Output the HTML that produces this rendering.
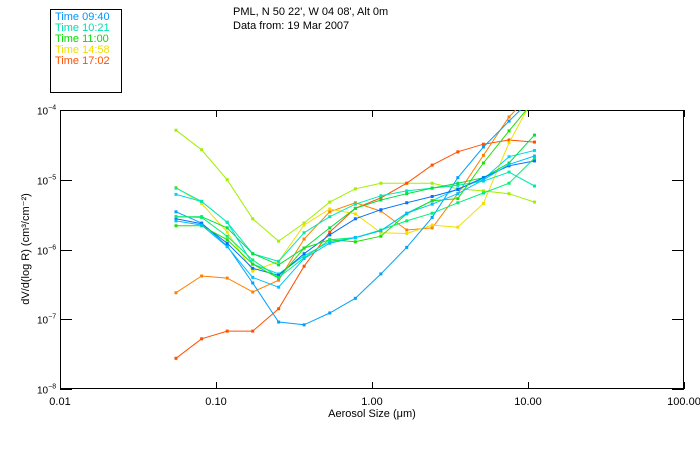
<!DOCTYPE html>
<html><head><meta charset="utf-8"><style>
body{margin:0;background:#fff;}
svg{display:block;font-family:"Liberation Sans","DejaVu Sans",sans-serif;}
</style></head><body>
<svg id="chart" width="700" height="450" viewBox="0 0 700 450">
<rect x="0" y="0" width="700" height="450" fill="#fff"/>
<g>
<rect x="50.5" y="9.5" width="71" height="83" fill="none" stroke="#000"/>
<text x="55" y="20" font-size="11" fill="#0096ff">Time 09:40</text>
<text x="55" y="31" font-size="11" fill="#00e0b0">Time 10:21</text>
<text x="55" y="42" font-size="11" fill="#00e000">Time 11:00</text>
<text x="55" y="53" font-size="11" fill="#f0e000">Time 14:58</text>
<text x="55" y="64" font-size="11" fill="#ff5000">Time 17:02</text>
</g>
<text x="233" y="15" font-size="11" fill="#000">PML, N 50 22', W 04 08', Alt 0m</text>
<text x="233" y="29" font-size="11" fill="#000">Data from: 19 Mar 2007</text>
<g id="axes"></g>
<g id="series"></g>
<text x="372" y="417" font-size="11" text-anchor="middle" fill="#000">Aerosol Size (μm)</text>
<text transform="translate(29,249) rotate(-90)" font-size="11" text-anchor="middle" fill="#000">dV/d(log R) (cm³/cm⁻²)</text>
</svg>
<script>
const sizes=[0.0554,0.0809,0.118,0.172,0.252,0.367,0.536,0.782,1.14,1.67,2.43,3.55,5.18,7.56,11.0];
const xTicks=[0.01,0.1,1,10,100];
const xTickLabels=["0.01","0.10","1.00","10.00","100.00"];
const yTicks=[-4,-5,-6,-7,-8];
const colors=["#a0f000","#ff5000","#ff8000","#f0e000","#00a0ff","#00d8f0","#00e8b0","#00e040","#0070ff","#20e000","#00f070","#00c0ff"];
// values stored as log10 of dV/dlogR
const s0=[-4.29,-4.57,-5.00,-5.56,-5.88,-5.62,-5.32,-5.13,-5.05,-5.05,-5.05,-5.13,-5.16,-5.20,-5.32];
const s1=[-7.56,-7.28,-7.17,-7.17,-6.85,-6.24,-5.75,-5.41,-5.26,-5.05,-4.79,-4.60,-4.49,-4.43,-4.46];
const s2=[-6.62,-6.38,-6.41,-6.61,-6.44,-5.85,-5.46,-5.33,-5.45,-5.72,-5.69,-5.20,-4.65,-4.10,-3.72];
const s3=[-5.11,-5.34,-5.75,-6.31,-6.17,-5.65,-5.42,-5.49,-5.76,-5.77,-5.65,-5.68,-5.34,-4.47,-3.80];
const s4=[-5.46,-5.62,-5.95,-6.48,-7.04,-7.08,-6.91,-6.70,-6.35,-5.97,-5.54,-4.97,-4.53,-4.16,-3.80];
const s5=[-5.21,-5.31,-5.61,-6.21,-6.35,-6.09,-5.89,-5.83,-5.73,-5.48,-5.30,-5.13,-4.99,-4.67,-4.58];
const s6=[-5.12,-5.31,-5.61,-6.06,-6.17,-5.76,-5.53,-5.35,-5.23,-5.16,-5.12,-5.08,-5.02,-4.89,-5.09];
const s7=[-5.53,-5.53,-5.69,-6.06,-6.22,-5.98,-5.69,-5.41,-5.29,-5.20,-5.12,-5.05,-4.97,-4.76,-4.36];
const s8=[-5.56,-5.63,-5.91,-6.27,-6.37,-6.06,-5.79,-5.56,-5.43,-5.33,-5.24,-5.14,-4.97,-4.80,-4.73];
const s9=[-5.66,-5.66,-5.86,-6.21,-6.41,-5.98,-5.86,-5.89,-5.81,-5.49,-5.30,-5.27,-4.76,-4.30,-3.86];
const s10=[-5.53,-5.54,-5.81,-6.15,-6.40,-6.12,-5.86,-5.83,-5.72,-5.59,-5.48,-5.33,-5.19,-5.05,-4.69];
const s11=[-5.59,-5.65,-5.96,-6.40,-6.54,-6.13,-5.91,-5.83,-5.73,-5.48,-5.35,-5.20,-5.00,-4.78,-4.66];
const seriesList=[s0,s1,s2,s3,s4,s5,s6,s7,s8,s9,s10,s11];

const L=60,R=684,T=110,B=389;
const xs=v=>L+(Math.log10(v)+2)/4*(R-L);
const ys=lv=>T+(-4-lv)/4*(B-T);
const NS="http://www.w3.org/2000/svg";
function mk(tag,attrs,parent){const e=document.createElementNS(NS,tag);for(const k in attrs)e.setAttribute(k,attrs[k]);parent.appendChild(e);return e;}
const axes=document.getElementById('axes');
const frame=mk('rect',{x:L+0.5,y:T+0.5,width:R-L-1,height:B-T-1,fill:'none',stroke:'#000'},axes);


xTicks.forEach((v,i)=>{
  const x=Math.round(xs(v))+0.5;
  const t1=mk('line',{x1:x,x2:x,y1:B,y2:B-7,stroke:'#000'},axes);
  
  
  const t2=mk('line',{x1:x,x2:x,y1:T,y2:T+7,stroke:'#000'},axes);
  
  
  const lb=mk('text',{x:xs(v),y:405,'font-size':11,'text-anchor':'middle',fill:'#000'},axes);
  lb.textContent=xTickLabels[i];
  
  
});
yTicks.forEach(p=>{
  const y=Math.round(ys(p))+0.5;
  const t1=mk('line',{x1:L,x2:L+12,y1:y,y2:y,stroke:'#000'},axes);
  
  
  const t2=mk('line',{x1:R,x2:R-12,y1:y,y2:y,stroke:'#000'},axes);
  
  
  const lb=mk('text',{x:37,y:y+4,'font-size':10,fill:'#000'},axes);
  
  
  lb.textContent='10';
  const sp=mk('tspan',{dy:-5,'font-size':7},lb);
  sp.textContent='−'+(-p);
});
const sg=document.getElementById('series');
const clip=mk('clipPath',{id:'pc'},sg);
mk('rect',{x:L,y:T,width:R-L,height:B-T},clip);
const inner=mk('g',{'clip-path':'url(#pc)'},sg);
seriesList.forEach((s,si)=>{
  const g=mk('g',{},inner);
  
  
  const pts=s.map((v,i)=>xs(sizes[i]).toFixed(1)+','+ys(v).toFixed(1)).join(' ');
  const pl=mk('polyline',{points:pts,fill:'none',stroke:colors[si],'stroke-width':1},g);
  
  
  s.forEach((v,i)=>{
    const r=mk('rect',{x:xs(sizes[i])-1.5,y:ys(v)-1.5,width:3,height:3,fill:colors[si]},g);
    
    
  });
});
</script>
</body></html>
